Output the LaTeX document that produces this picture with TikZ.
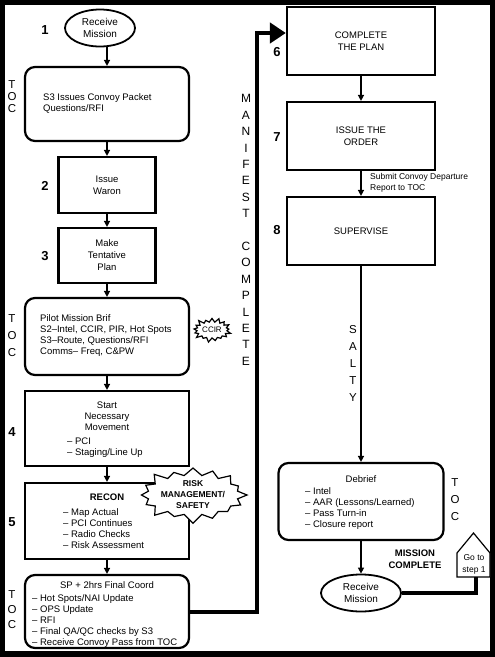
\documentclass[tikz,border=0pt]{standalone}
\usepackage{fontspec}
\setmainfont{Liberation Sans}
\usetikzlibrary{shapes,arrows.meta,calc}

\begin{document}
\begin{tikzpicture}[x=1pt,y=-1pt,
    box/.style={draw,line width=2.2pt,inner sep=0pt},
    rbox/.style={box,rounded corners=10pt},
    oval/.style={ellipse,draw,line width=1.8pt,inner sep=0pt,align=center,font=\fontsize{10}{12}\selectfont},
    txt/.style={inner sep=0pt,align=left,font=\fontsize{9.5}{11}\selectfont},
    ctxt/.style={inner sep=0pt,align=center,font=\fontsize{9.5}{12}\selectfont},
    num/.style={inner sep=0pt,font=\fontsize{13}{13}\selectfont\bfseries},
    toc/.style={inner sep=0pt,align=center,font=\fontsize{11.5}{#1}\selectfont},
    arr/.style={line width=2pt,-{Triangle[length=6pt,width=6pt]}},
    burst/.style={starburst,draw,fill=white,line width=1.2pt,inner sep=0pt,align=center}]

    \fill (0,0) rectangle (495,657);
    \fill[white] (5,5) rectangle (490,651);

    \node[oval,minimum width=70pt,minimum height=37pt] (mission) at (100,28) {Receive\\Mission};
    \node[num] at (45,30) {1};

    \node[rbox,minimum width=164pt,minimum height=74pt] (packet) at (107,104) {};
    \node[txt,anchor=west] at (43,103) {S3 Issues Convoy Packet\\Questions/RFI};
    \node[toc=12] at (12,97) {T\\O\\C};

    \node[box,ctxt,minimum width=97pt,minimum height=56pt] (warno) at (107,185) {Issue\\Waron};
    \node[num] at (45,186) {2};
    \node[box,ctxt,minimum width=97pt,minimum height=55pt] (tplan) at (107,255.5) {Make\\Tentative\\Plan};
    \node[num] at (45,256) {3};

    \node[rbox,minimum width=164pt,minimum height=77pt] (brief) at (107,336.5) {};
    \node[txt,anchor=west] at (40,336) {Pilot Mission Brif\\S2–Intel, CCIR, PIR, Hot Spots\\S3–Route, Questions/RFI\\Comms– Freq, C\&PW};
    \node[toc=17] at (12,336) {T\\O\\C};
    \node[burst,minimum width=40pt,minimum height=26pt,starburst point height=5pt,font=\fontsize{8}{9}\selectfont] (ccir) at (212,330) {CCIR};

    \node[box,minimum width=164pt,minimum height=75pt] (move) at (107,428.5) {};
    \node[ctxt,font=\fontsize{9.5}{11}\selectfont] at (107,416) {Start\\Necessary\\Movement};
    \node[txt,anchor=west] at (67,447.5) {– PCI\\– Staging/Line Up};
    \node[num] at (12,432) {4};

    \node[box,minimum width=164pt,minimum height=76pt] (recon) at (107,521) {};
    \node[ctxt,font=\fontsize{9.5}{11}\selectfont\bfseries] at (107,497) {RECON};
    \node[txt,anchor=west] at (63,528.5) {– Map Actual\\– PCI Continues\\– Radio Checks\\– Risk Assessment};
    \node[num] at (12,522) {5};

    \node[rbox,minimum width=164pt,minimum height=73pt] (coord) at (107,611.5) {};
    \node[ctxt] at (107,585) {SP + 2hrs Final Coord};
    \node[txt,anchor=west] at (32,621) {– Hot Spots/NAI Update\\– OPS Update\\– RFI\\– Final QA/QC checks by S3\\– Receive Convoy Pass from TOC};
    \node[toc=15] at (12,610) {T\\O\\C};

    \node[burst,minimum width=100pt,minimum height=56pt,starburst points=16,starburst point height=10pt,font=\fontsize{8.5}{11}\selectfont\bfseries] (risk) at (193,495) {RISK\\MANAGEMENT/\\SAFETY};

    \draw[arr] (mission.south -| packet.north) -- (packet.north);
    \draw[arr] (packet) -- (warno);
    \draw[arr] (warno) -- (tplan);
    \draw[arr] (tplan) -- (brief);
    \draw[arr] (brief) -- (move);
    \draw[arr] (move) -- (recon);
    \draw[arr] (recon) -- (coord);

    \node[font=\fontsize{12}{16.4}\selectfont,align=center,inner sep=0pt] (manifest) at (246,230) {M\\A\\N\\I\\F\\E\\S\\T\\[16.4pt]C\\O\\M\\P\\L\\E\\T\\E};
    \coordinate (bend) at (257,33);

    \node[box,ctxt,minimum width=148pt,minimum height=68pt] (cplan) at (361,41) {COMPLETE\\THE PLAN};
    \node[num] at (277,52) {6};
    \node[box,ctxt,minimum width=148pt,minimum height=68pt] (order) at (361,136) {ISSUE THE\\ORDER};
    \node[num] at (277,137) {7};
    \node[box,ctxt,minimum width=148pt,minimum height=68pt] (super) at (361,231) {SUPERVISE};
    \node[num] at (277,230) {8};
    \node[txt,anchor=west,font=\fontsize{8.5}{11}\selectfont] at (370,182.5) {Submit Convoy Departure\\Report to TOC};

    \draw[line width=4pt,-{Triangle[length=16pt,width=20pt]}] (coord.east) -| (bend) -- (bend -| cplan.west);
    \draw[arr] (cplan) -- (order);
    \draw[arr] (order) -- (super);

    \node[rbox,minimum width=165pt,minimum height=77pt] (debrief) at (361,501.5) {};
    \node[ctxt] at (361,479) {Debrief};
    \node[txt,anchor=west] at (305,508.5) {– Intel\\– AAR (Lessons/Learned)\\– Pass Turn-in\\– Closure report};
    \node[toc=17] at (455,500) {T\\O\\C};
    \draw[arr] (super) -- (debrief);
    \node[font=\fontsize{11.5}{17}\selectfont,align=center,inner sep=0pt] (salty) at (353,363.5) {S\\A\\L\\T\\Y};

    \node[oval,minimum width=80pt,minimum height=37pt] (again) at (361,593) {Receive\\Mission};
    \draw[arr] (debrief) -- (again);
    \node[ctxt,font=\fontsize{9.5}{12}\selectfont\bfseries] at (415,559) {MISSION\\COMPLETE};

    \draw[line width=1.2pt,fill=white] (457,577) -- (457,553) -- (473.5,533) -- (490,553) -- (490,577) -- cycle;
    \node[ctxt,font=\fontsize{8.5}{12}\selectfont] (goto) at (474,564) {Go to\\step 1};
    \coordinate (gofoot) at (476,577);
    \draw[line width=4pt] (again.east) -| (gofoot);
\end{tikzpicture}
\end{document}
